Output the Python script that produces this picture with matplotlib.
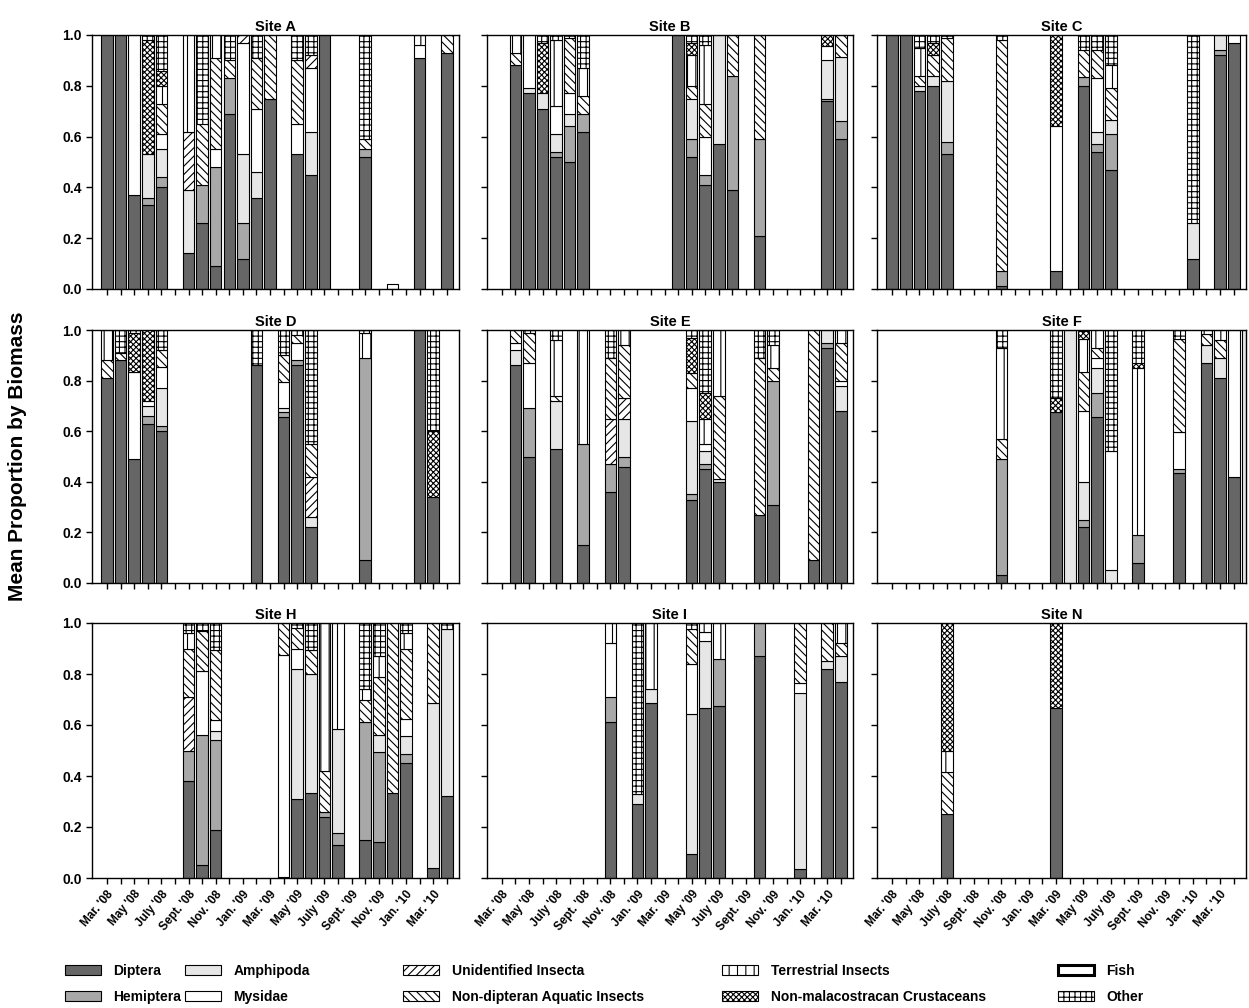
import matplotlib.pyplot as plt
from matplotlib.patches import Patch
import numpy as np

plt.rcParams["font.family"] = ["Liberation Sans", "DejaVu Sans"]
plt.rcParams["hatch.linewidth"] = 0.8
plt.rcParams["hatch.color"] = "black"

categories = ["Diptera", "Hemiptera", "Amphipoda", "Mysidae", "Unidentified Insecta",
              "Non-dipteran Aquatic Insects", "Terrestrial Insects",
              "Non-malacostracan Crustaceans", "Fish", "Other"]
fills = ["#666666", "#a8a8a8", "#e6e6e6", "white", "white",
         "white", "white", "white", "white", "white"]
hatches = [None, None, None, None, "////", "\\\\\\\\", "||", "xxxxxx", None, "+++"]

month_labels = ["Mar. '08", "May '08", "July '08", "Sept. '08", "Nov. '08", "Jan. '09",
                "Mar. '09", "May '09", "July '09", "Sept. '09", "Nov. '09", "Jan. '10",
                "Mar. '10"]

# month index (0 = Mar. '08) and proportions in category order
site_a_months = [0, 1, 2, 3, 4, 6, 7, 8, 9, 10, 11, 12, 14, 15, 16, 19, 21, 23, 25]
site_a = [
    [1.0, 0, 0, 0, 0, 0, 0, 0, 0, 0],
    [1.0, 0, 0, 0, 0, 0, 0, 0, 0, 0],
    [.37, 0, 0, .63, 0, 0, 0, 0, 0, 0],
    [.33, .03, .17, 0, 0, 0, 0, .45, 0, .02],
    [.40, .04, .11, .06, 0, .12, .07, .06, 0, .14],
    [.14, 0, .25, 0, .23, 0, .38, 0, 0, 0],
    [.26, .15, 0, 0, 0, .24, 0, 0, 0, .35],
    [.09, .39, 0, .07, 0, .36, .09, 0, 0, 0],
    [.69, .14, 0, 0, 0, .07, 0, 0, 0, .10],
    [.12, .14, .27, .44, .03, 0, 0, 0, 0, 0],
    [.36, 0, .10, .25, 0, .20, 0, 0, 0, .09],
    [.75, 0, 0, 0, 0, .25, 0, 0, 0, 0],
    [.53, 0, 0, .12, 0, .25, 0, 0, 0, .10],
    [.45, 0, .17, .25, .05, 0, 0, 0, 0, .08],
    [1.0, 0, 0, 0, 0, 0, 0, 0, 0, 0],
    [.52, .03, 0, 0, 0, .04, 0, 0, 0, .41],
    [0, 0, 0, .02, 0, 0, 0, 0, 0, 0],
    [.91, 0, 0, .05, 0, 0, .04, 0, 0, 0],
    [.93, 0, 0, 0, 0, .07, 0, 0, 0, 0],
]

site_b_months = [1, 2, 3, 4, 5, 6, 13, 14, 15, 16, 17, 19, 24, 25]
site_b = [
    [.88, 0, 0, 0, 0, .05, .07, 0, 0, 0],
    [.77, 0, .02, .21, 0, 0, 0, 0, 0, 0],
    [.71, 0, .06, 0, 0, 0, 0, .20, 0, .03],
    [.52, .02, .07, .11, 0, 0, .26, 0, 0, .02],
    [.50, .14, .05, .08, 0, .22, 0, 0, 0, .01],
    [.62, .07, 0, 0, 0, .07, .11, 0, 0, .13],
    [1.0, 0, 0, 0, 0, 0, 0, 0, 0, 0],
    [.52, .07, .16, 0, 0, .05, .12, .05, 0, .03],
    [.41, .04, 0, .15, 0, .13, .23, 0, 0, .04],
    [.57, 0, .43, 0, 0, 0, 0, 0, 0, 0],
    [.39, .45, 0, 0, 0, .16, 0, 0, 0, 0],
    [.21, .38, 0, 0, 0, .41, 0, 0, 0, 0],
    [.74, .01, .15, .055, 0, 0, 0, .045, 0, 0],
    [.59, .07, .255, 0, 0, .085, 0, 0, 0, 0],
]

site_c_months = [0, 1, 2, 3, 4, 8, 12, 14, 15, 16, 22, 24, 25]
site_c = [
    [1.0, 0, 0, 0, 0, 0, 0, 0, 0, 0],
    [1.0, 0, 0, 0, 0, 0, 0, 0, 0, 0],
    [.78, 0, .02, 0, 0, .04, .11, 0, 0, .05],
    [.80, 0, .04, 0, 0, .08, 0, .05, 0, .03],
    [.53, .05, .24, 0, 0, .17, 0, 0, 0, .01],
    [.01, .06, 0, 0, 0, .91, 0, 0, 0, .02],
    [.07, 0, 0, .57, 0, 0, 0, .36, 0, 0],
    [.80, .035, 0, 0, 0, .105, 0, 0, 0, .06],
    [.54, .03, .05, .21, 0, .11, 0, 0, 0, .06],
    [.47, .14, .055, 0, 0, .125, .09, 0, 0, .12],
    [.12, 0, .14, 0, 0, 0, 0, 0, 0, .74],
    [.92, .02, .06, 0, 0, 0, 0, 0, 0, 0],
    [.97, 0, 0, .03, 0, 0, 0, 0, 0, 0],
]

site_d_months = [0, 1, 2, 3, 4, 11, 13, 14, 15, 19, 23, 24]
site_d = [
    [.81, 0, 0, 0, 0, .07, .12, 0, 0, 0],
    [.88, 0, 0, 0, 0, .03, 0, 0, 0, .09],
    [.49, 0, 0, .345, 0, 0, 0, .155, 0, .01],
    [.63, .03, .04, .02, 0, 0, 0, .28, 0, 0],
    [.60, .02, .15, .085, 0, .065, 0, 0, 0, .08],
    [.86, 0, 0, 0, 0, 0, 0, 0, 0, .14],
    [.655, .02, .015, .105, 0, .105, 0, 0, 0, .10],
    [.86, .02, 0, .07, 0, .03, 0, 0, 0, .02],
    [.22, 0, .04, 0, .16, .13, 0, 0, 0, .45],
    [.09, .80, 0, 0, 0, 0, .10, 0, 0, .01],
    [1.0, 0, 0, 0, 0, 0, 0, 0, 0, 0],
    [.34, 0, 0, 0, 0, 0, 0, .26, 0, .40],
]

site_e_months = [1, 2, 4, 6, 8, 9, 14, 15, 16, 19, 20, 23, 24, 25]
site_e = [
    [.86, 0, .06, .03, 0, .05, 0, 0, 0, 0],
    [.50, .19, 0, .18, 0, .12, 0, 0, 0, .01],
    [.53, 0, .19, 0, 0, .02, .22, 0, 0, .04],
    [.15, .40, 0, 0, 0, 0, .45, 0, 0, 0],
    [.36, .11, 0, 0, .18, .24, 0, 0, 0, .11],
    [.46, .04, .15, 0, .08, .21, .06, 0, 0, 0],
    [.33, .02, .29, .13, 0, .06, 0, .14, 0, .03],
    [.45, .02, .05, .03, 0, 0, .10, .10, 0, .25],
    [.40, 0, .01, 0, 0, .33, .26, 0, 0, 0],
    [.27, 0, 0, 0, 0, .62, 0, 0, 0, .11],
    [.31, .49, 0, 0, 0, .05, .09, 0, 0, .06],
    [.09, 0, 0, 0, 0, .91, 0, 0, 0, 0],
    [.93, .02, .05, 0, 0, 0, 0, 0, 0, 0],
    [.68, 0, .10, .02, 0, .15, .05, 0, 0, 0],
]

site_f_months = [8, 12, 13, 14, 15, 16, 18, 21, 23, 24, 25, 26]
site_f = [
    [.03, .46, 0, 0, 0, .08, .36, 0, 0, .07],
    [.675, 0, 0, 0, 0, 0, 0, .055, 0, .27],
    [0, 0, 1.0, 0, 0, 0, 0, 0, 0, 0],
    [.22, .03, .15, .28, 0, .155, .13, .03, 0, 0],
    [.655, .095, .10, .04, 0, .04, .07, 0, 0, 0],
    [0, 0, .05, .47, 0, 0, 0, 0, 0, .48],
    [.08, .11, 0, 0, 0, 0, .66, .02, 0, .13],
    [.435, .015, 0, .145, 0, .37, 0, 0, 0, .035],
    [.87, 0, .07, 0, 0, .045, .015, 0, 0, 0],
    [.81, 0, .08, 0, 0, .07, .04, 0, 0, 0],
    [.42, 0, 0, .58, 0, 0, 0, 0, 0, 0],
    [0, 0, 1.0, 0, 0, 0, 0, 0, 0, 0],
]

site_h_months = [6, 7, 8, 13, 14, 15, 16, 17, 19, 20, 21, 22, 24, 25]
site_h = [
    [.38, .12, 0, 0, .21, .19, .06, 0, 0, .04],
    [.05, .51, 0, .25, 0, .16, 0, 0, 0, .03],
    [.19, .35, .035, .045, 0, .275, 0, 0, 0, .105],
    [.005, 0, 0, .87, 0, .125, 0, 0, 0, 0],
    [.31, 0, .51, .08, 0, .08, 0, 0, 0, .02],
    [.335, 0, .465, 0, 0, .095, 0, 0, 0, .105],
    [.24, .02, 0, 0, 0, .16, .58, 0, 0, 0],
    [.13, .045, .41, 0, 0, 0, .415, 0, 0, 0],
    [.15, .46, 0, 0, 0, .09, .04, 0, 0, .26],
    [.14, .355, .065, 0, 0, .23, .08, 0, 0, .13],
    [.335, 0, 0, 0, 0, .665, 0, 0, 0, 0],
    [.45, .035, .07, .07, 0, .275, .06, 0, 0, .04],
    [.04, 0, .645, 0, 0, .315, 0, 0, 0, 0],
    [.32, 0, .655, 0, 0, 0, 0, 0, 0, .025],
]

site_i_months = [8, 10, 11, 14, 15, 16, 19, 22, 24, 25]
site_i = [
    [.61, .10, 0, .21, 0, 0, .08, 0, 0, 0],
    [.29, 0, .04, 0, 0, 0, 0, 0, 0, .67],
    [.685, 0, .055, 0, 0, 0, .26, 0, 0, 0],
    [.095, 0, .55, .195, 0, .135, 0, 0, 0, .025],
    [.665, 0, .265, .035, 0, 0, .035, 0, 0, 0],
    [.675, .185, 0, 0, 0, 0, .14, 0, 0, 0],
    [.87, .13, 0, 0, 0, 0, 0, 0, 0, 0],
    [.035, 0, .69, .04, 0, .235, 0, 0, 0, 0],
    [.82, 0, .03, 0, 0, .15, 0, 0, 0, 0],
    [.77, 0, .10, 0, 0, .05, .08, 0, 0, 0],
]

site_n_months = [4, 12]
site_n = [
    [.25, 0, 0, 0, 0, .165, .085, .50, 0, 0],
    [.665, 0, 0, 0, 0, 0, 0, .335, 0, 0],
]

sites = [("A", site_a_months, site_a), ("B", site_b_months, site_b),
         ("C", site_c_months, site_c), ("D", site_d_months, site_d),
         ("E", site_e_months, site_e), ("F", site_f_months, site_f),
         ("H", site_h_months, site_h), ("I", site_i_months, site_i),
         ("N", site_n_months, site_n)]

W, H = 1249, 1008
col_px = [(92, 459), (487, 853), (877, 1246)]
row_px = [(35, 289), (330, 583), (623, 878)]

fig = plt.figure(figsize=(W / 100, H / 100), dpi=100)

for k, (name, months, props) in enumerate(sites):
    r, c = divmod(k, 3)
    l, rt = col_px[c]
    t, b = row_px[r]
    ax = fig.add_axes([l / W, 1 - b / H, (rt - l) / W, (b - t) / H])

    props = np.array(props)
    bottoms = np.zeros(len(months))
    for j, cat in enumerate(categories):
        vals = props[:, j]
        keep = vals > 0
        if keep.any():
            ax.bar(np.array(months)[keep], vals[keep], bottom=bottoms[keep], width=0.85,
                   color=fills[j], hatch=hatches[j], edgecolor="black",
                   linewidth=2.2 if cat == "Fish" else 0.8)
        bottoms += vals

    ax.set_xlim(-1.1, 25.9)
    ax.set_ylim(0, 1.0)
    ax.set_xticks(range(26))
    ax.set_yticks(np.arange(0, 1.01, 0.2))
    ax.tick_params(direction="out", length=4, width=1, labelsize=10)
    for s in ax.spines.values():
        s.set_linewidth(1.0)

    if c == 0:
        ax.set_yticklabels([f"{v:.1f}" for v in np.arange(0, 1.01, 0.2)], fontweight="bold")
    else:
        ax.set_yticklabels([])

    if r == 2:
        labels = [month_labels[i // 2] if i % 2 == 0 else "" for i in range(26)]
        ax.set_xticklabels(labels, rotation=50, ha="right", rotation_mode="anchor",
                           fontsize=8.5, fontweight="bold")
    else:
        ax.set_xticklabels([])

    ax.set_title(f"Site {name}", fontsize=10.5, fontweight="bold", pad=3)

fig.text(18 / W, 1 - 456 / H, "Mean Proportion by Biomass", rotation=90,
         ha="center", va="center", fontsize=15, fontweight="bold")

# legend laid out as five columns of two entries
legend_x = [65, 185, 403, 722, 1058]
for col in range(5):
    handles = []
    for j in (2 * col, 2 * col + 1):
        handles.append(Patch(facecolor=fills[j], hatch=hatches[j], edgecolor="black",
                             linewidth=2.2 if categories[j] == "Fish" else 0.8,
                             label=categories[j]))
    fig.legend(handles=handles, loc="upper left",
               bbox_to_anchor=(legend_x[col] / W, 1 - 964 / H),
               frameon=False, borderpad=0, borderaxespad=0,
               handlelength=2.6, handleheight=0.75, handletextpad=0.9,
               labelspacing=0.85, prop={"size": 10, "weight": "bold"})

fig.savefig("out.png", dpi=100)
